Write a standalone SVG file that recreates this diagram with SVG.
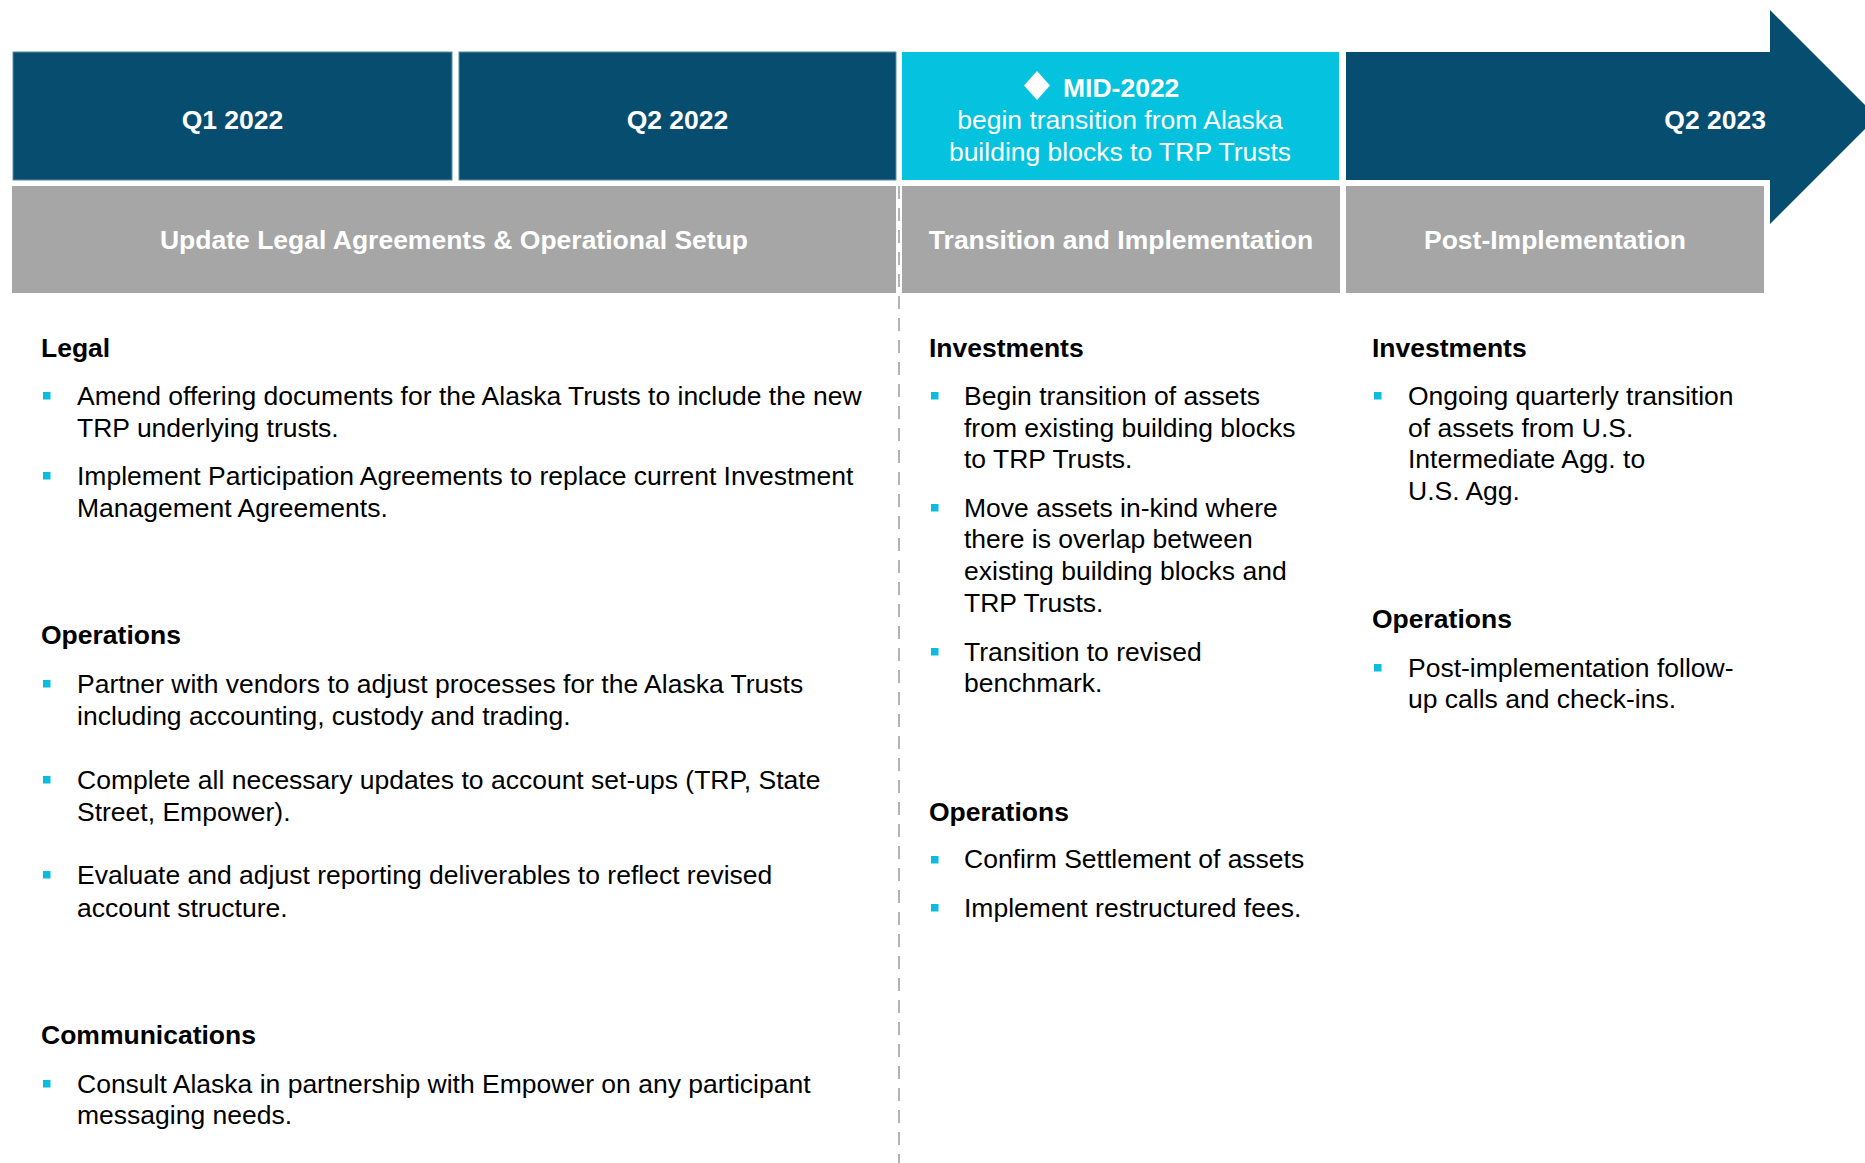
<svg xmlns="http://www.w3.org/2000/svg" width="1865" height="1163" viewBox="0 0 1865 1163">
<style>
text{font-family:"Liberation Sans",Arial,sans-serif;font-size:26.5px}
.hd{fill:#fff;font-weight:bold;text-anchor:middle}
.wt{fill:#fff;text-anchor:middle}
.h{fill:#000;font-weight:bold}
.b{fill:#000}
.dk{fill:#074d70;stroke:#5e8ba6;stroke-width:1}
.gr{fill:#a6a6a6}
.bl{fill:#0abde0}
</style>
<rect width="1865" height="1163" fill="#fff"/>
<g id="connectors">
<line x1="899" y1="186" x2="899" y2="1163" stroke="#b3b3b3" stroke-width="2" stroke-dasharray="13 9"/>
</g>
<g id="q1"><rect class="dk" x="13" y="52" width="439" height="128"/><text class="hd" x="232.5" y="129">Q1 2022</text></g>
<g id="q2"><rect class="dk" x="459" y="52" width="437" height="128"/><text class="hd" x="677.5" y="129">Q2 2022</text></g>
<g id="mid"><rect x="902" y="52" width="437" height="128" fill="#05c3de"/>
<polygon points="1037,71 1050,85.5 1037,100 1024,85.5" fill="#fff"/>
<text x="1063" y="97" fill="#fff" font-weight="bold">MID-2022</text>
<text class="wt" x="1120" y="129">begin transition from Alaska</text>
<text class="wt" x="1120" y="161">building blocks to TRP Trusts</text></g>
<g id="q2023"><path d="M1346 52H1770V10L1877 117L1770 224V180H1346Z" fill="#074d70"/><text x="1766" y="129" fill="#fff" font-weight="bold" text-anchor="end">Q2 2023</text></g>
<g id="phase1"><rect class="gr" x="12" y="186" width="884" height="107"/><text class="hd" x="454" y="249">Update Legal Agreements &amp; Operational Setup</text></g>
<g id="phase2"><rect class="gr" x="902" y="186" width="438" height="107"/><text class="hd" x="1121" y="249">Transition and Implementation</text></g>
<g id="phase3"><rect class="gr" x="1346" y="186" width="418" height="107"/><text class="hd" x="1555" y="249">Post-Implementation</text></g>
<g id="col1">
<text class="h" x="41" y="357">Legal</text>
<rect class="bl" x="43" y="392" width="7.5" height="7.5"/>
<text class="b" x="77" y="405">Amend offering documents for the Alaska Trusts to include the new</text>
<text class="b" x="77" y="437">TRP underlying trusts.</text>
<rect class="bl" x="43" y="472" width="7.5" height="7.5"/>
<text class="b" x="77" y="485">Implement Participation Agreements to replace current Investment</text>
<text class="b" x="77" y="517">Management Agreements.</text>
<text class="h" x="41" y="644">Operations</text>
<rect class="bl" x="43" y="680" width="7.5" height="7.5"/>
<text class="b" x="77" y="693">Partner with vendors to adjust processes for the Alaska Trusts</text>
<text class="b" x="77" y="725">including accounting, custody and trading.</text>
<rect class="bl" x="43" y="776" width="7.5" height="7.5"/>
<text class="b" x="77" y="789">Complete all necessary updates to account set-ups (TRP, State</text>
<text class="b" x="77" y="821">Street, Empower).</text>
<rect class="bl" x="43" y="871" width="7.5" height="7.5"/>
<text class="b" x="77" y="884">Evaluate and adjust reporting deliverables to reflect revised</text>
<text class="b" x="77" y="917">account structure.</text>
<text class="h" x="41" y="1044">Communications</text>
<rect class="bl" x="43" y="1080" width="7.5" height="7.5"/>
<text class="b" x="77" y="1093">Consult Alaska in partnership with Empower on any participant</text>
<text class="b" x="77" y="1124">messaging needs.</text>
</g>
<g id="col2">
<text class="h" x="929" y="357">Investments</text>
<rect class="bl" x="931" y="392" width="7.5" height="7.5"/>
<text class="b" x="964" y="405">Begin transition of assets</text>
<text class="b" x="964" y="437">from existing building blocks</text>
<text class="b" x="964" y="468">to TRP Trusts.</text>
<rect class="bl" x="931" y="504" width="7.5" height="7.5"/>
<text class="b" x="964" y="517">Move assets in-kind where</text>
<text class="b" x="964" y="548">there is overlap between</text>
<text class="b" x="964" y="580">existing building blocks and</text>
<text class="b" x="964" y="612">TRP Trusts.</text>
<rect class="bl" x="931" y="648" width="7.5" height="7.5"/>
<text class="b" x="964" y="661">Transition to revised</text>
<text class="b" x="964" y="692">benchmark.</text>
<text class="h" x="929" y="821">Operations</text>
<rect class="bl" x="931" y="856" width="7.5" height="7.5"/>
<text class="b" x="964" y="868">Confirm Settlement of assets</text>
<rect class="bl" x="931" y="904" width="7.5" height="7.5"/>
<text class="b" x="964" y="917">Implement restructured fees.</text>
</g>
<g id="col3">
<text class="h" x="1372" y="357">Investments</text>
<rect class="bl" x="1374" y="392" width="7.5" height="7.5"/>
<text class="b" x="1408" y="405">Ongoing quarterly transition</text>
<text class="b" x="1408" y="437">of assets from U.S.</text>
<text class="b" x="1408" y="468">Intermediate Agg. to</text>
<text class="b" x="1408" y="500">U.S. Agg.</text>
<text class="h" x="1372" y="628">Operations</text>
<rect class="bl" x="1374" y="664" width="7.5" height="7.5"/>
<text class="b" x="1408" y="677">Post-implementation follow-</text>
<text class="b" x="1408" y="708">up calls and check-ins.</text>
</g>
</svg>
